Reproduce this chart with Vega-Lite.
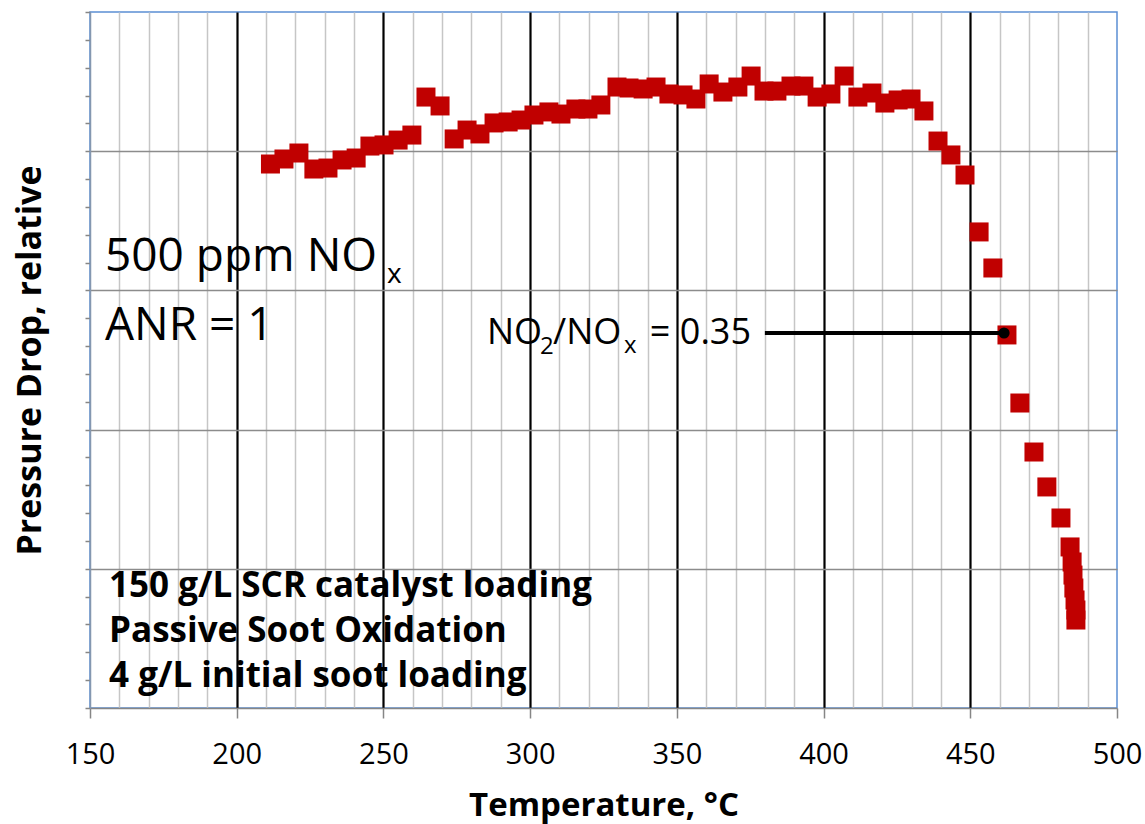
{
  "$schema": "https://vega.github.io/schema/vega-lite/v6.json",
  "width": 1027,
  "height": 696,
  "autosize": {"type": "none"},
  "padding": {"left": 90, "top": 12, "right": 28, "bottom": 116},
  "background": "white",
  "config": {
    "font": "Open Sans",
    "view": {"stroke": "#5b8fd4", "strokeWidth": 1.5}
  },
  "datasets": {
    "points": [
      {"t": 211.5, "v": 3.908}, {"t": 216.1, "v": 3.944}, {"t": 221.2, "v": 3.987}, {"t": 226.3, "v": 3.872},
      {"t": 231.1, "v": 3.879}, {"t": 235.9, "v": 3.937}, {"t": 240.7, "v": 3.951}, {"t": 245.4, "v": 4.037},
      {"t": 250.2, "v": 4.045}, {"t": 255.0, "v": 4.080}, {"t": 259.7, "v": 4.116}, {"t": 264.5, "v": 4.389},
      {"t": 269.3, "v": 4.325}, {"t": 274.1, "v": 4.088}, {"t": 278.5, "v": 4.152}, {"t": 282.9, "v": 4.124},
      {"t": 287.7, "v": 4.203}, {"t": 292.5, "v": 4.210}, {"t": 296.9, "v": 4.224}, {"t": 301.3, "v": 4.260},
      {"t": 306.4, "v": 4.282}, {"t": 310.5, "v": 4.267}, {"t": 315.6, "v": 4.303}, {"t": 319.7, "v": 4.303},
      {"t": 324.1, "v": 4.332}, {"t": 329.6, "v": 4.461}, {"t": 333.7, "v": 4.454}, {"t": 338.5, "v": 4.447},
      {"t": 342.9, "v": 4.461}, {"t": 347.3, "v": 4.411}, {"t": 352.1, "v": 4.404}, {"t": 356.5, "v": 4.375},
      {"t": 361.0, "v": 4.483}, {"t": 365.7, "v": 4.425}, {"t": 370.8, "v": 4.461}, {"t": 375.3, "v": 4.540},
      {"t": 379.7, "v": 4.432}, {"t": 384.1, "v": 4.432}, {"t": 388.9, "v": 4.468}, {"t": 393.3, "v": 4.468},
      {"t": 397.8, "v": 4.389}, {"t": 402.5, "v": 4.411}, {"t": 407.0, "v": 4.540}, {"t": 411.7, "v": 4.389},
      {"t": 416.5, "v": 4.418}, {"t": 420.9, "v": 4.346}, {"t": 425.4, "v": 4.368}, {"t": 429.8, "v": 4.375},
      {"t": 434.2, "v": 4.289}, {"t": 439.0, "v": 4.073}, {"t": 443.4, "v": 3.973}, {"t": 448.2, "v": 3.829},
      {"t": 453.0, "v": 3.420}, {"t": 457.7, "v": 3.161}, {"t": 462.5, "v": 2.680}, {"t": 466.9, "v": 2.191},
      {"t": 471.7, "v": 1.839}, {"t": 476.1, "v": 1.588}, {"t": 480.9, "v": 1.365}, {"t": 484.0, "v": 1.157},
      {"t": 484.7, "v": 1.049}, {"t": 485.0, "v": 0.955}, {"t": 485.3, "v": 0.862}, {"t": 485.7, "v": 0.776},
      {"t": 486.0, "v": 0.704}, {"t": 486.0, "v": 0.632}
    ],
    "arrow": [{"t": 380.0, "v": 2.694}, {"t": 461.5, "v": 2.694}],
    "dot": [{"t": 461.5, "v": 2.694}],
    "notes": [
      {"label": "500 ppm NO", "t": 155.1, "v": 3.139, "kind": "big"},
      {"label": "ANR = 1", "t": 155.1, "v": 2.644, "kind": "big"},
      {"label": "x", "t": 251.2, "v": 3.05, "kind": "bigsub"},
      {"label": "NO", "t": 285.3, "v": 2.615, "kind": "mid"},
      {"label": "/NO", "t": 307.8, "v": 2.615, "kind": "mid"},
      {"label": "= 0.35", "t": 340.8, "v": 2.615, "kind": "mid"},
      {"label": "2", "t": 303.4, "v": 2.545, "kind": "midsub"},
      {"label": "x", "t": 332.0, "v": 2.55, "kind": "midsub"},
      {"label": "150 g/L SCR catalyst loading", "t": 156.5, "v": 0.797, "kind": "bold"},
      {"label": "Passive Soot Oxidation", "t": 156.5, "v": 0.474, "kind": "bold"},
      {"label": "4 g/L initial soot loading", "t": 156.5, "v": 0.151, "kind": "bold"}
    ]
  },
  "encoding": {
    "x": {
      "field": "t", "type": "quantitative",
      "scale": {"domain": [150, 500], "nice": false, "zero": false},
      "axis": {
        "values": [150,160,170,180,190,200,210,220,230,240,250,260,270,280,290,300,310,320,330,340,350,360,370,380,390,400,410,420,430,440,450,460,470,480,490,500],
        "title": "Temperature, °C",
        "titleFont": "Open Sans", "titleFontWeight": "bold", "titleFontSize": 33, "titleColor": "black",
        "titleBaseline": "alphabetic", "titleY": 107,
        "labelExpr": "datum.value % 50 === 0 ? datum.label : ''",
        "labelFont": "Open Sans", "labelFontSize": 29, "labelColor": "black",
        "labelBaseline": "alphabetic", "labelPadding": 45, "labelFlush": false, "labelOverlap": false,
        "tickSize": 10, "tickColor": "#868686", "tickWidth": 1.5,
        "tickOpacity": {"condition": {"test": "datum.value % 50 === 0", "value": 1}, "value": 0},
        "grid": true,
        "gridColor": {"condition": {"test": "datum.value % 50 === 0", "value": "#000000"}, "value": "#c6c6c6"},
        "gridWidth": {"condition": {"test": "datum.value % 50 === 0", "value": 2.2}, "value": 1.5},
        "gridOpacity": {"condition": {"test": "datum.value <= 150 || datum.value >= 500", "value": 0}, "value": 1},
        "domainColor": "#868686", "domainWidth": 1.5
      }
    },
    "y": {
      "field": "v", "type": "quantitative",
      "scale": {"domain": [0, 5], "nice": false, "zero": false},
      "axis": {
        "values": [0,0.2,0.4,0.6,0.8,1,1.2,1.4,1.6,1.8,2,2.2,2.4,2.6,2.8,3,3.2,3.4,3.6,3.8,4,4.2,4.4,4.6,4.8,5],
        "labels": false,
        "tickSize": 5, "tickColor": "#868686", "tickWidth": 1.5,
        "domainColor": "#8497b0", "domainWidth": 1.5,
        "grid": true, "gridColor": "#8c8c8c", "gridWidth": 1.5,
        "gridOpacity": {"condition": {"test": "abs(datum.value - round(datum.value)) < 0.001 && datum.value > 0.5 && datum.value < 4.5", "value": 1}, "value": 0},
        "title": "Pressure Drop, relative",
        "titleFont": "Open Sans", "titleFontWeight": "bold", "titleFontSize": 34, "titleColor": "black",
        "titleAngle": -90, "titleX": -60, "titleY": 348, "titleBaseline": "middle", "titleAlign": "center"
      }
    }
  },
  "layer": [
    {
      "data": {"name": "points"},
      "mark": {"type": "point", "shape": "square", "filled": true, "size": 361, "color": "#c00000", "opacity": 1, "strokeWidth": 0}
    },
    {
      "data": {"name": "arrow"},
      "mark": {"type": "line", "color": "black", "strokeWidth": 4}
    },
    {
      "data": {"name": "dot"},
      "mark": {"type": "point", "shape": "circle", "filled": true, "size": 125, "color": "black", "opacity": 1}
    },
    {
      "data": {"name": "notes"},
      "transform": [{"filter": "datum.kind === 'big'"}],
      "mark": {"type": "text", "align": "left", "baseline": "alphabetic", "font": "Open Sans", "fontSize": 46, "color": "black"},
      "encoding": {"text": {"field": "label"}}
    },
    {
      "data": {"name": "notes"},
      "transform": [{"filter": "datum.kind === 'bigsub'"}],
      "mark": {"type": "text", "align": "left", "baseline": "alphabetic", "font": "Open Sans", "fontSize": 28, "color": "black"},
      "encoding": {"text": {"field": "label"}}
    },
    {
      "data": {"name": "notes"},
      "transform": [{"filter": "datum.kind === 'mid'"}],
      "mark": {"type": "text", "align": "left", "baseline": "alphabetic", "font": "Open Sans", "fontSize": 36, "color": "black"},
      "encoding": {"text": {"field": "label"}}
    },
    {
      "data": {"name": "notes"},
      "transform": [{"filter": "datum.kind === 'midsub'"}],
      "mark": {"type": "text", "align": "left", "baseline": "alphabetic", "font": "Open Sans", "fontSize": 24, "color": "black"},
      "encoding": {"text": {"field": "label"}}
    },
    {
      "data": {"name": "notes"},
      "transform": [{"filter": "datum.kind === 'bold'"}],
      "mark": {"type": "text", "align": "left", "baseline": "alphabetic", "font": "Open Sans", "fontSize": 35, "fontWeight": "bold", "color": "black"},
      "encoding": {"text": {"field": "label"}}
    }
  ]
}
